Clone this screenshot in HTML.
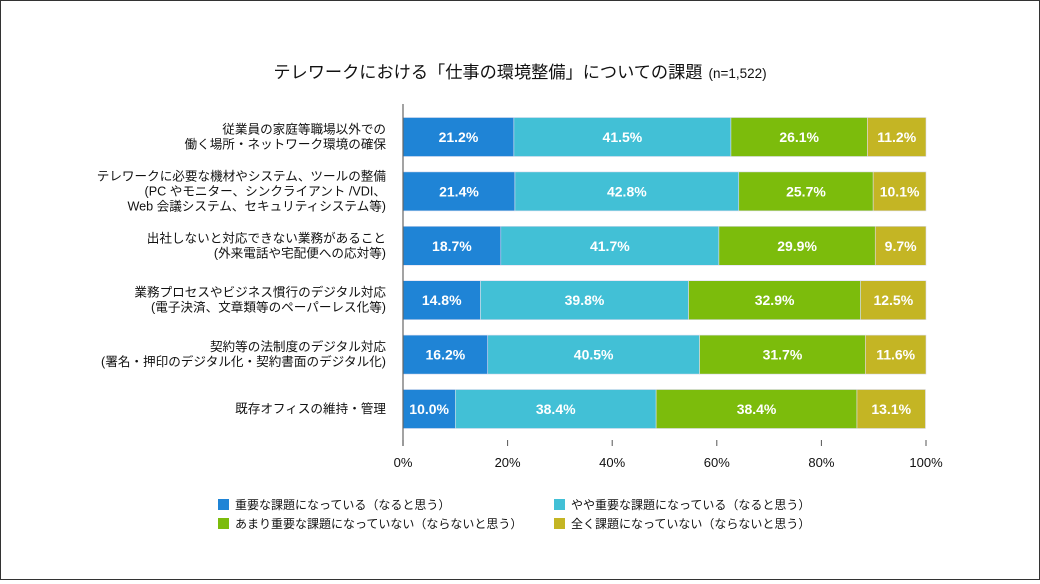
<!DOCTYPE html>
<html><head><meta charset="utf-8"><style>
body{margin:0;background:#fff;}
#wrap{position:relative;width:1038px;height:578px;border:1px solid #333;background:#fff;font-family:"Liberation Sans","Noto Sans CJK JP",sans-serif;}
</style></head><body>
<div id="wrap">
<svg id="chart" width="1038" height="578"></svg>
</div>
<script>
const categories=[
 ["従業員の家庭等職場以外での","働く場所・ネットワーク環境の確保"],
 ["テレワークに必要な機材やシステム、ツールの整備","(PC やモニター、シンクライアント /VDI、","Web 会議システム、セキュリティシステム等)"],
 ["出社しないと対応できない業務があること","(外来電話や宅配便への応対等)"],
 ["業務プロセスやビジネス慣行のデジタル対応","(電子決済、文章類等のペーパーレス化等)"],
 ["契約等の法制度のデジタル対応","(署名・押印のデジタル化・契約書面のデジタル化)"],
 ["既存オフィスの維持・管理"]
];
const s1=[21.2,21.4,18.7,14.8,16.2,10.0];
const s2=[41.5,42.8,41.7,39.8,40.5,38.4];
const s3=[26.1,25.7,29.9,32.9,31.7,38.4];
const s4=[11.2,10.1,9.7,12.5,11.6,13.1];
const seriesNames=["重要な課題になっている（なると思う）","やや重要な課題になっている（なると思う）","あまり重要な課題になっていない（ならないと思う）","全く課題になっていない（ならないと思う）"];
const colors=["#1f84d6","#42c0d6","#7cbc0c","#c4b524"];
const ticks=[0,20,40,60,80,100];
const ns="http://www.w3.org/2000/svg";
const svg=document.getElementById('chart');
const x0=402,x1=925;
function xs(v){return x0+(x1-x0)*v/100;}
function yc(i){return 136+i*54.4;}
const bh=39;
function mk(t,a,p){const e=document.createElementNS(ns,t);for(const k in a)e.setAttribute(k,a[k]);(p||svg).appendChild(e);return e;}
const title=mk('text',{x:519,y:77,'text-anchor':'middle','font-size':17.2,fill:'#111'});


title.textContent='テレワークにおける「仕事の環境整備」についての課題';
const tt=mk('tspan',{'font-size':13.5,dx:6},title);tt.textContent='(n=1,522)';
const series=[s1,s2,s3,s4];
categories.forEach((c,i)=>{
 let acc=0;const y=yc(i)-bh/2;
 series.forEach((s,j)=>{
  const v=s[i];
  const r=mk('rect',{x:xs(acc),y:y,width:xs(acc+v)-xs(acc),height:bh,fill:colors[j],stroke:'#dde',"stroke-width":0.6});
  
  
  const t=mk('text',{x:(xs(acc)+xs(acc+v))/2,y:yc(i)+5,'text-anchor':'middle','font-size':14,'font-weight':'bold',fill:'#fff'});
  
  
  t.textContent=v.toFixed(1)+'%';
  acc+=v;
 });
 const n=c.length,lh=15;
 c.forEach((line,k)=>{
  const t=mk('text',{x:385,y:yc(i)+4+(k-(n-1)/2)*lh,'text-anchor':'end','font-size':12.6,fill:'#111'});
  
  
  t.textContent=line;
 });
});
const ax=mk('line',{x1:x0,y1:103,x2:x0,y2:445,stroke:'#666','stroke-width':1.2});


ticks.forEach(v=>{
 const l=mk('line',{x1:xs(v),y1:439,x2:xs(v),y2:445,stroke:'#555'});
 
 
 const t=mk('text',{x:xs(v),y:466,'text-anchor':'middle','font-size':13,fill:'#111'});
 
 
 t.textContent=v+'%';
});
const lp=[[217,504],[553,504],[217,523],[553,523]];
seriesNames.forEach((nm,j)=>{
 const r=mk('rect',{x:lp[j][0],y:lp[j][1]-6,width:11,height:11,fill:colors[j]});
 
 
 const t=mk('text',{x:lp[j][0]+17,y:lp[j][1]+4,'font-size':12,fill:'#111'});
 
 
 t.textContent=nm;
});
</script>
</body></html>
